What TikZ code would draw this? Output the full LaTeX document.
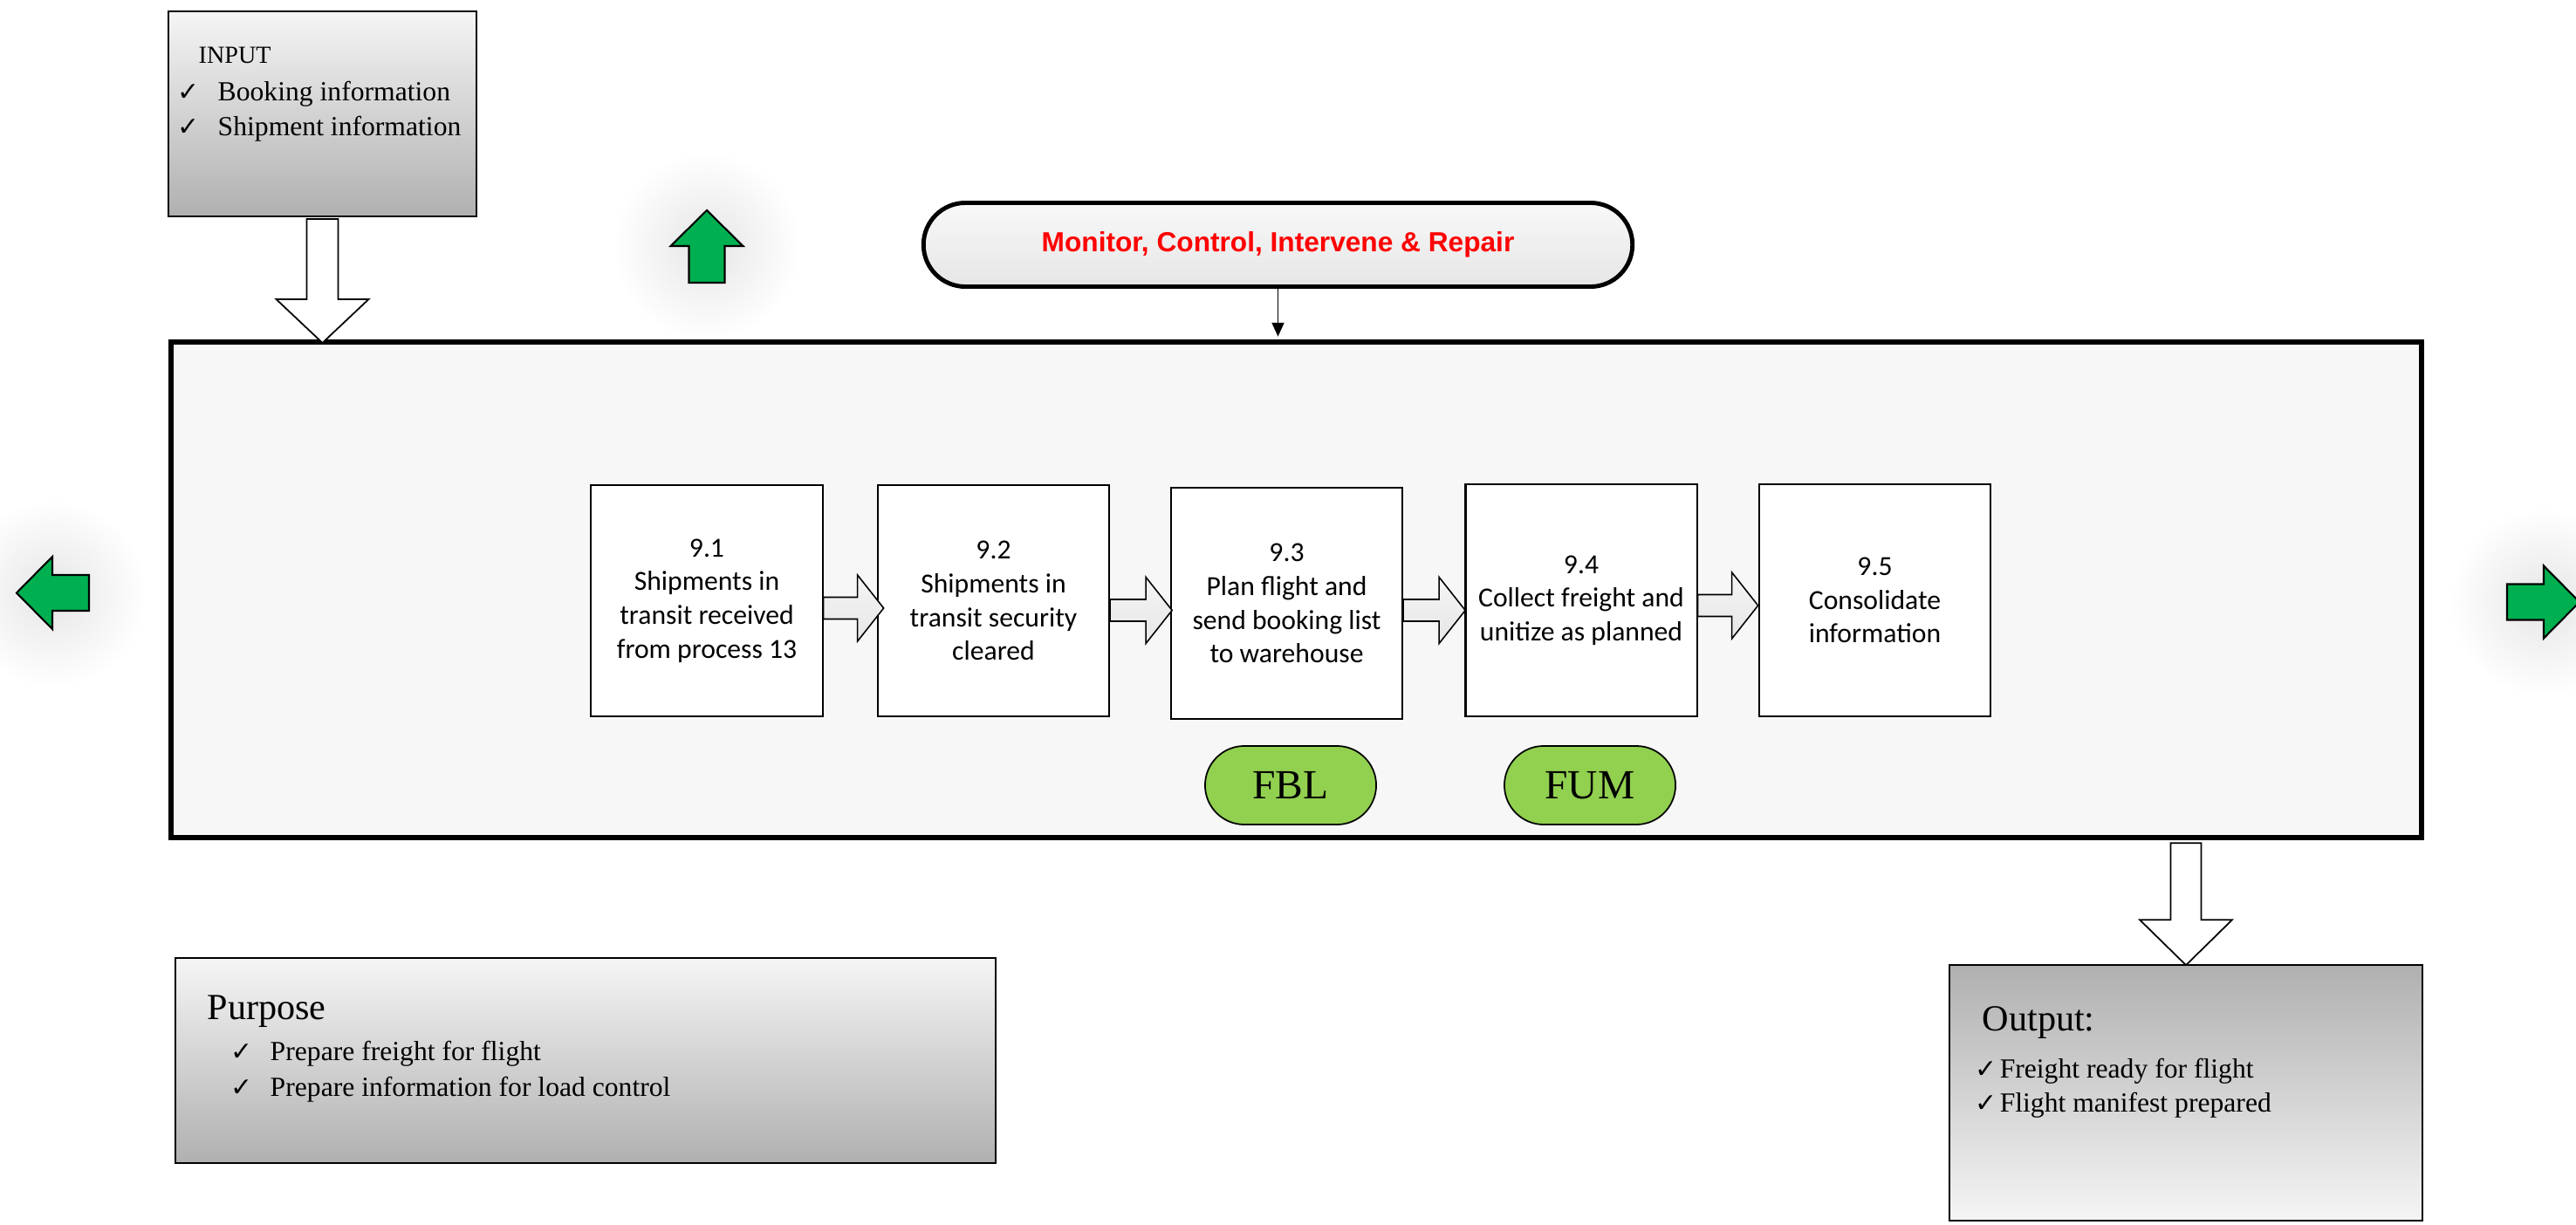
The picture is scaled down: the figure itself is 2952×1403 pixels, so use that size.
\documentclass[tikz,border=0pt]{standalone}
\usepackage{fontspec}
\setmainfont{Liberation Serif}
\newfontfamily\calibrifont{Carlito}
\newfontfamily\arialfont{Liberation Sans}
\newfontfamily\checkfont{DejaVu Sans}
\usetikzlibrary{shapes.misc,arrows.meta,calc}

\definecolor{boxgray}{HTML}{F7F7F7}
\definecolor{gradlight}{HTML}{F5F5F5}
\definecolor{graddark}{HTML}{B0B0B0}
\definecolor{pilltop}{HTML}{F8F8F8}
\definecolor{pillbot}{HTML}{E6E6E6}
\definecolor{pillgreen}{HTML}{92D050}
\definecolor{arrgreen}{HTML}{00B050}
\definecolor{monred}{HTML}{FF0000}
\definecolor{smallarr}{HTML}{E6E6E6}

\newcommand{\ck}{{\checkfont\fontsize{8.5pt}{8.5pt}\selectfont ✓}}
% #1 style, #2 origin, #3 rotation, #4 shaft length, #5 head length, #6 shaft half width, #7 head half width
\newcommand{\blockarr}[7]{%
  \path[#1, shift={#2}, rotate=#3] (0,-#6) -- (#4,-#6) -- (#4,-#7) -- ({#4+#5},0) -- (#4,#7) -- (#4,#6) -- (0,#6) -- cycle;}

\begin{document}
\begin{tikzpicture}[x=0.01cm, y=-0.01cm,
  gradbox/.style={draw, line width=0.5pt, top color=gradlight, bottom color=graddark, inner sep=0pt},
  revgradbox/.style={draw, line width=0.5pt, top color=graddark, bottom color=gradlight, inner sep=0pt},
  procbox/.style={draw, line width=0.6pt, fill=white, minimum width=2.65cm, minimum height=2.65cm,
    align=center, inner sep=0pt, font=\calibrifont\fontsize{9pt}{11pt}\selectfont},
  greenpill/.style={rounded rectangle, draw, line width=0.5pt, fill=pillgreen, minimum width=1.96cm,
    minimum height=0.9cm, inner sep=0pt, font=\fontsize{13.5pt}{13.5pt}\selectfont},
  txt/.style={anchor=base west, inner sep=0pt},
  itemtxt/.style={txt, font=\fontsize{9pt}{9pt}\selectfont},
  titletxt/.style={txt, font=\fontsize{12pt}{12pt}\selectfont},
  hollowbig/.style={draw, fill=white, line width=0.5pt},
  hollowsmall/.style={draw, top color=white!60!smallarr, bottom color=smallarr, line width=0.45pt},
  greenarr/.style={draw, fill=arrgreen, line width=0.6pt},
  glow/.style={inner color=black!10, outer color=white}
]
\useasboundingbox (0,0) rectangle (2952,1403);

% soft glows behind green arrows
\shade[glow] (60,680) circle (108);
\shade[glow] (2915,690) circle (108);
\shade[glow] (810,282) circle (108);

% input box
\node[gradbox, minimum width=3.53cm, minimum height=2.35cm] (input) at (369.5,130.5) {};
\node[txt, font=\fontsize{8pt}{8pt}\selectfont] (inputtitle) at (227,72) {INPUT};
\node[itemtxt] (inputa) at (203,115) {\makebox[0.46cm][l]{\ck}Booking information};
\node[itemtxt] (inputb) at (203,155) {\makebox[0.46cm][l]{\ck}Shipment information};

% monitor pill
\node[rounded rectangle, draw, line width=1.4pt, top color=pilltop, bottom color=pillbot,
  minimum width=8.12cm, minimum height=0.96cm, inner sep=0pt,
  font=\arialfont\bfseries\fontsize{9pt}{11pt}\selectfont, text=monred] (monitor) at (1464.5,280.5)
  {Monitor, Control, Intervene \& Repair};

% main process frame
\node[draw, line width=1.7pt, fill=boxgray, minimum width=25.77cm, minimum height=5.68cm, inner sep=0pt]
  (main) at (1485.5,676) {};

% connectors to the frame
\blockarr{hollowbig}{($(input.south)+(0,2)$)}{-90}{92}{50}{18}{53}
\draw[line width=0.45pt, -{Triangle[width=4pt,length=4.5pt]}, shorten >=0.9pt]
  (monitor.south) -- (monitor.south |- main.north);

% process steps
\node[procbox] (b1) at (810,688.5) {9.1\\Shipments in\\transit received\\from process 13};
\node[procbox] (b2) at (1138.5,688.5) {9.2\\Shipments in\\transit security\\cleared};
\node[procbox] (b3) at (1474.5,691.5) {9.3\\Plan flight and\\send booking list\\to warehouse};
\node[procbox] (b4) at (1812,688) {9.4\\Collect freight and\\unitize as planned};
\node[procbox] (b5) at (2148.5,688) {9.5\\Consolidate\\information};

\blockarr{hollowsmall}{($(b1.east)+(0,8.5)$)}{0}{39}{30}{12.5}{38}
\blockarr{hollowsmall}{($(b2.east)+(0,11)$)}{0}{41}{30}{12.5}{38}
\blockarr{hollowsmall}{($(b3.east)+(0,8)$)}{0}{41}{30}{12.5}{38}
\blockarr{hollowsmall}{($(b4.east)+(0,6)$)}{0}{39}{30}{12.5}{38}

% message pills
\node[greenpill] (fbl) at (1479,900) {FBL};
\node[greenpill] (fum) at (1822,900) {FUM};

% green direction arrows
\blockarr{greenarr}{(102,679.5)}{180}{42}{41}{20.5}{41.5}
\blockarr{greenarr}{(2873,690)}{0}{42}{41}{20.5}{41.5}
\blockarr{greenarr}{(810,324)}{90}{42}{41}{20.5}{41.5}

% purpose box
\node[gradbox, minimum width=9.4cm, minimum height=2.35cm] (purpose) at (671,1215.5) {};
\node[titletxt] (purposetitle) at (237,1168) {Purpose};
\node[itemtxt] (purposea) at (264,1215) {\makebox[0.45cm][l]{\ck}Prepare freight for flight};
\node[itemtxt] (purposeb) at (264,1256) {\makebox[0.45cm][l]{\ck}Prepare information for load control};

% output box
\node[revgradbox, minimum width=5.42cm, minimum height=2.93cm] (out) at (2505,1252.5) {};
\node[titletxt] (outtitle) at (2271,1181) {Output:};
\node[itemtxt] (outa) at (2263,1235) {\makebox[0.28cm][l]{\ck}Freight ready for flight};
\node[itemtxt] (outb) at (2263,1274) {\makebox[0.28cm][l]{\ck}Flight manifest prepared};

\blockarr{hollowbig}{($(main.south -| out.north)+(0,3)$)}{-90}{88}{52}{17.5}{53}
\end{tikzpicture}
\end{document}
